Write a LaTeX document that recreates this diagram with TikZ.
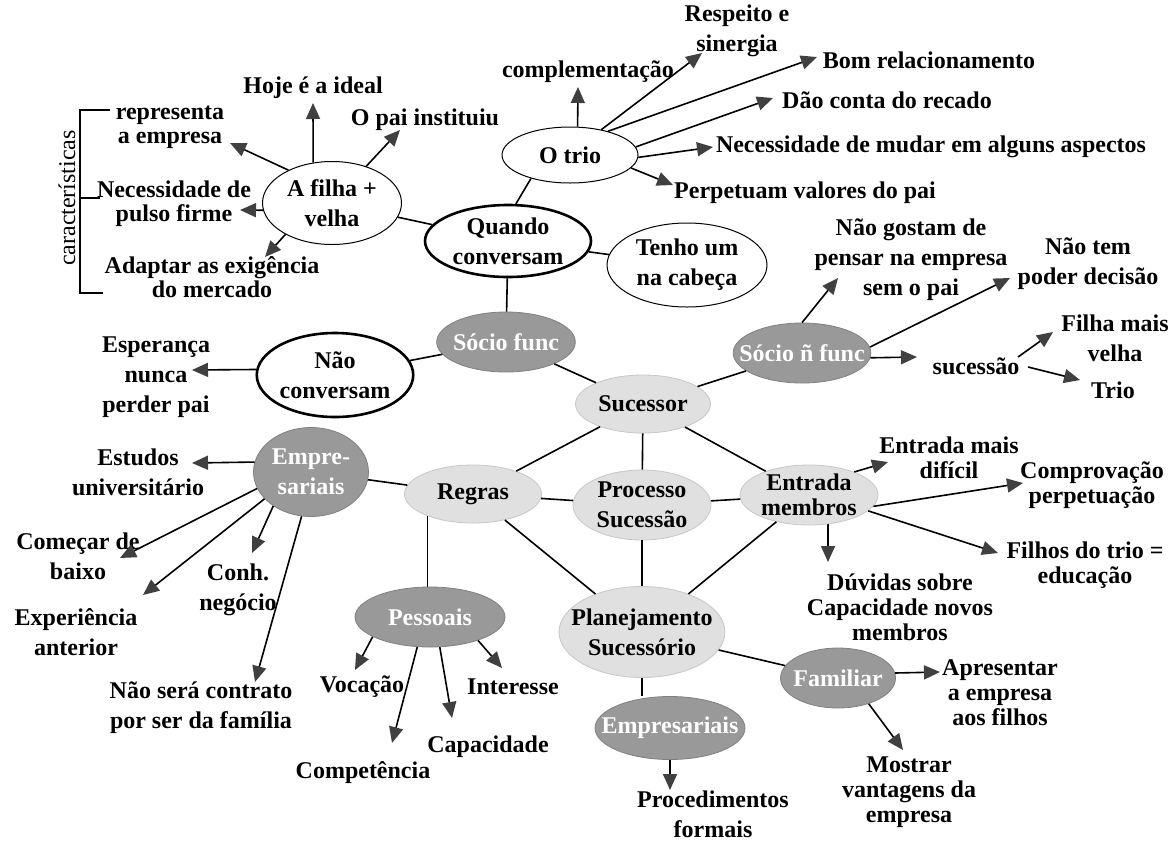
\documentclass[tikz,border=0pt]{standalone}
\usepackage{fontspec}
\setmainfont{Liberation Serif}
\usetikzlibrary{shapes.geometric,arrows.meta,calc}
\begin{document}
\begin{tikzpicture}[x=0.5pt, y=-0.5pt,
  font=\bfseries\fontsize{12}{15}\selectfont,
  txt/.style={inner sep=1pt, align=center},
  tightlines/.style={font=\bfseries\fontsize{12}{12}\selectfont},
  snuglines/.style={font=\bfseries\fontsize{12}{12.5}\selectfont},
  bubble/.style={ellipse, draw, line width=0.5pt, inner sep=0pt, align=center},
  thickbubble/.style={bubble, line width=1.3pt},
  darkbubble/.style={ellipse, fill=black!40, draw=black!50, inner sep=0pt, text=white, align=center},
  palebubble/.style={ellipse, fill=black!12, draw=black!22, inner sep=0pt, align=center},
  link/.style={line width=0.8pt},
  arr/.style={link, -{Triangle[length=8pt,width=7pt,color=black!75]}}]
\useasboundingbox (0,0) rectangle (1171,841);

\node[bubble, minimum width=69.5pt, minimum height=41.5pt] (filha) at (332,203) {A filha +\\velha};
\node[bubble, minimum width=68pt, minimum height=28pt] (trio) at (570,155) {O trio};
\node[thickbubble, minimum width=83pt, minimum height=36pt] (quando) at (508,241) {Quando\\conversam};
\node[bubble, minimum width=80pt, minimum height=42pt] (tenho) at (687,265) {Tenho um\\na cabeça};
\node[thickbubble, minimum width=77pt, minimum height=42pt] (nao) at (335,375) {Não\\conversam};
\node[darkbubble, minimum width=69pt, minimum height=30pt, inner xsep=-2pt] (sociof) at (506,342) {Sócio func};
\node[palebubble, minimum width=67.5pt, minimum height=29pt] (sucessor) at (643,404) {Sucessor};
\node[darkbubble, minimum width=68.5pt, minimum height=30pt, inner xsep=-7pt] (socion) at (802,353) {Sócio ñ func};
\node[darkbubble, minimum width=57.5pt, minimum height=44.5pt] (empre) at (311,472) {Empre-\\sariais};
\node[palebubble, minimum width=68.5pt, minimum height=29pt] (regras) at (473,494) {Regras};
\node[palebubble, minimum width=69pt, minimum height=35pt] (processo) at (642,505) {Processo\\Sucessão};
\node[palebubble, snuglines, minimum width=69pt, minimum height=30pt] (entrada) at (809,495) {Entrada\\membros};
\node[palebubble, minimum width=82.5pt, minimum height=45.5pt, inner xsep=-6pt] (planej) at (642,632) {Planejamento\\Sucessório};
\node[darkbubble, minimum width=75pt, minimum height=30pt] (pess) at (430,617) {Pessoais};
\node[darkbubble, minimum width=75pt, minimum height=31.5pt, inner xsep=-8pt] (emp2) at (670,728) {Empresariais};
\node[darkbubble, minimum width=57.5pt, minimum height=30pt, inner xsep=-2pt] (fam) at (838,678) {Familiar};

\node[txt] (hoje) at (313,88) {Hoje é a ideal};
\node[txt, tightlines] (repr) at (170,127) {representa\\a empresa};
\node[txt] (opai) at (425,120) {O pai instituiu};
\node[txt, tightlines] (necp) at (174,204) {Necessidade de\\pulso firme};
\node[txt, tightlines] (adapt) at (212,277) {Adaptar as exigência\\do mercado};
\node[txt, font=\mdseries\fontsize{12}{15}\selectfont, rotate=90] (caract) at (67,198) {características};
\node[txt] (compl) at (588,72) {complementação};
\node[txt] (resp) at (737,31) {Respeito e\\sinergia};
\node[txt] (bom) at (929,60) {Bom relacionamento};
\node[txt] (dao) at (887,100) {Dão conta do recado};
\node[txt] (necm) at (931,147) {Necessidade de mudar em alguns aspectos};
\node[txt] (perp) at (805,193) {Perpetuam valores do pai};
\node[txt] (esp) at (156,377) {Esperança\\nunca\\perder pai};
\node[txt] (naog) at (911,260) {Não gostam de\\pensar na empresa\\sem o pai};
\node[txt] (naotem) at (1088,264) {Não tem\\poder decisão};
\node[txt] (sucessao) at (976,366) {sucessão};
\node[txt] (filhamais) at (1115,338) {Filha mais\\velha};
\node[txt] (triob) at (1113,390) {Trio};
\node[txt] (estudos) at (138,472) {Estudos\\universitário};
\node[txt] (comecar) at (78,556) {Começar de\\baixo};
\node[txt] (exper) at (76,632) {Experiência\\anterior};
\node[txt] (conh) at (238,590) {Conh.\\negócio};
\node[txt] (naosera) at (201,708) {Não será contrato\\por ser da família};
\node[txt] (vocacao) at (362,687) {Vocação};
\node[txt] (compet) at (363,773) {Competência};
\node[txt] (capac) at (488,747) {Capacidade};
\node[txt] (inter) at (513,687) {Interesse};
\node[txt] (proc) at (713,814) {Procedimentos\\formais};
\node[txt, snuglines] (entmais) at (949,458) {Entrada mais\\difícil};
\node[txt, snuglines] (compro) at (1092,485) {Comprovação\\perpetuação};
\node[txt, snuglines] (filhost) at (1085,565) {Filhos do trio =\\educação};
\node[txt, snuglines] (duvidas) at (900,607) {Dúvidas sobre\\Capacidade novos\\membros};
\node[txt, snuglines] (apres) at (1000,693) {Apresentar\\a empresa\\aos filhos};
\node[txt, snuglines] (mostrar) at (909,792) {Mostrar\\vantagens da\\empresa};

\draw[link] (110,110) -- (80,110) -- (80,293) -- (103,293);
\draw[link] (80,198) -- (100,198);

\draw[link] (filha) -- (quando);
\draw[link] (quando.78) -- (trio.211);
\draw[link] (quando) -- (tenho);
\draw[link] (quando) -- (sociof);
\draw[link] (nao) -- (sociof);
\draw[link] (sociof) -- (sucessor);
\draw[link] (sucessor) -- (socion);
\draw[link] (sucessor) -- (regras);
\draw[link] (sucessor) -- (processo);
\draw[link] (sucessor) -- (entrada);
\draw[link] (empre) -- (regras);
\draw[link] (regras) -- (processo);
\draw[link] (processo) -- (entrada);
\draw[link] (regras) -- (planej);
\draw[link] (processo) -- (planej);
\draw[link] (entrada) -- (planej);
\draw[link] (regras.206) -- (regras.206 |- pess.north);
\draw[link] (planej.south) -- (planej.south |- emp2.north);
\draw[link] (planej) -- (fam);

\draw[arr] (filha.115) -- ($(hoje)+(0,15)$);
\draw[arr] (filha.143) -- ($(repr)+(60,16)$);
\draw[arr] (filha.47) -- ($(opai)+(-25,10)$);
\draw[arr] (filha.186) -- ($(necp)+(66,6)$);
\draw[arr] (filha.214) -- ($(adapt)+(53,-20)$);
\draw[arr] (trio.75) -- ($(compl)+(-10,15)$);
\draw[arr] (trio.39) -- ($(resp)+(-35,22)$);
\draw[arr] (trio.32) -- ($(bom)+(-112,-3)$);
\draw[arr] (trio.7) -- ($(dao)+(-114,-2)$);
\draw[arr] (trio.-2) -- ($(necm)+(-218,0)$);
\draw[arr] (trio.-12) -- ($(perp)+(-132,-8)$);
\draw[arr] (nao.176) -- ($(esp)+(36,-7)$);
\draw[arr] (socion.north) -- ($(naog)+(-73,18)$);
\draw[arr] (socion.5) -- ($(naotem)+(-78,14)$);
\draw[arr] (socion.-4) -- ($(sucessao)+(-59,-9)$);
\draw[arr] ($(sucessao)+(42,-9)$) -- ($(filhamais)+(-62,-6)$);
\draw[arr] ($(sucessao)+(52,1)$) -- ($(triob)+(-33,-10)$);
\draw[arr] (entrada.27) -- ($(entmais)+(-61,4)$);
\draw[arr] (entrada.-10) -- ($(compro)+(-69,-2)$);
\draw[arr] (entrada.-15) -- ($(filhost)+(-87,-12)$);
\draw[arr] (entrada.-57) -- ($(duvidas)+(-72,-45)$);
\draw[arr] (empre.170) -- ($(estudos)+(54,-9)$);
\draw[arr] (empre.197) -- ($(comecar)+(42,2)$);
\draw[arr] (empre.210) -- ($(exper)+(67,-37)$);
\draw[arr] (empre.222) -- ($(conh)+(14,-37)$);
\draw[arr] (empre.258) -- ($(naosera)+(54,-26)$);
\draw[arr] (pess.199) -- ($(vocacao)+(-7,-17)$);
\draw[arr] (pess.247) -- ($(compet)+(29,-30)$);
\draw[arr] (pess.-72) -- ($(capac)+(-36,-29)$);
\draw[arr] (pess.-26) -- ($(inter)+(-11,-19)$);
\draw[arr] (emp2.south) -- ($(proc)+(-43,-24)$);
\draw[arr] (fam.5) -- ($(apres)+(-60,-21)$);
\draw[arr] (fam.-40) -- ($(mostrar)+(-6,-42)$);
\end{tikzpicture}
\end{document}
